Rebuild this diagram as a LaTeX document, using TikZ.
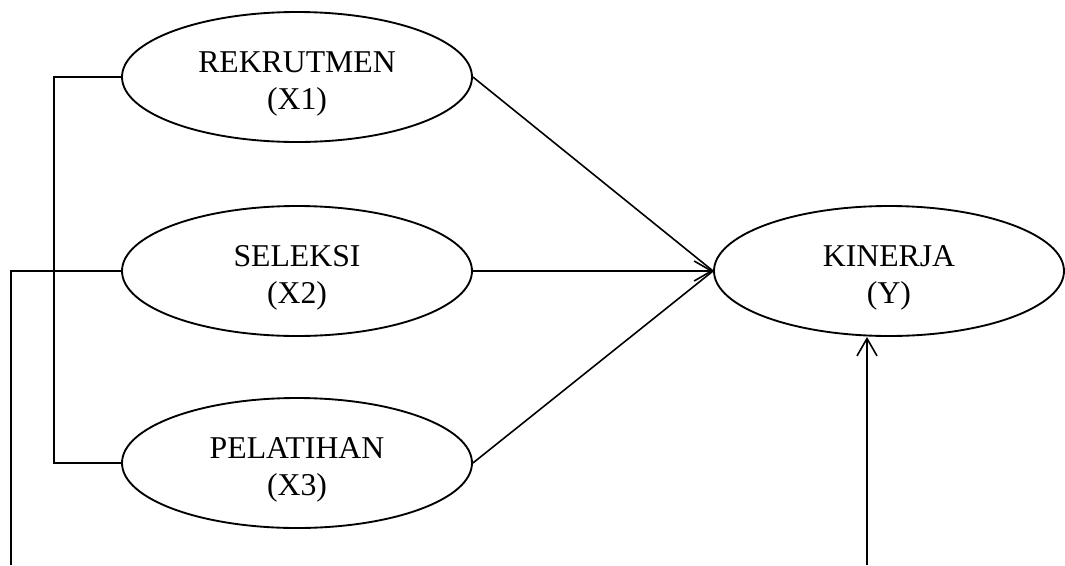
\documentclass[tikz,border=0pt]{standalone}
\usepackage{fontspec}
\setmainfont{Liberation Serif}
\usetikzlibrary{arrows.meta,shapes.geometric}
\newcommand{\lowstrut}{\rule{0pt}{26pt}}
\begin{document}
\begin{tikzpicture}[x=0.75pt,y=-0.75pt,
  var/.style={draw, ellipse, line width=1.4pt, minimum width=262.5pt, minimum height=97.5pt,
    inner sep=0pt, align=center, font=\fontsize{23.8}{27.5}\selectfont},
  conn/.style={line width=1.2pt},
  arr/.style={conn, -{Straight Barb[length=13pt,width=15pt,line width=1.2pt]}}]
\useasboundingbox (0,0) rectangle (1065,565);
\node[var] (x1) at (297,77) {\lowstrut REKRUTMEN\\(X1)};
\node[var] (x2) at (297,271) {\lowstrut SELEKSI\\(X2)};
\node[var] (x3) at (297,463) {\lowstrut PELATIHAN\\(X3)};
\node[var] (y) at (889,271) {\lowstrut KINERJA\\(Y)};
\coordinate (b) at (54,77);
\coordinate (o) at (11,565);
\coordinate (p) at (867,565);
\draw[conn] (x1.west) -- (b) |- (x3.west);
\draw[conn] (x2.west) -| (o);
\draw[conn] (x1.east) -- (y.west);
\draw[conn] (x3.east) -- (y.west);
\draw[arr] (x2.east) -- (y.west);
\draw[arr] (p) -- (y.south -| p);
\end{tikzpicture}
\end{document}
